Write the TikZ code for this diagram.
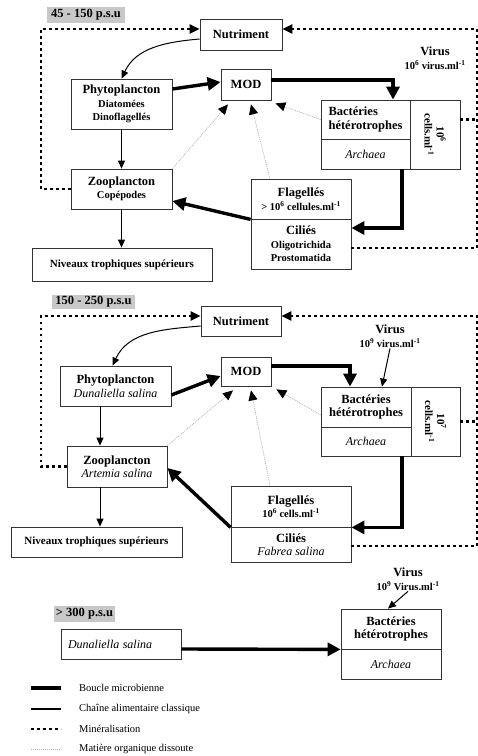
\documentclass[tikz,border=0pt]{standalone}
\usepackage{fontspec}
\setmainfont{Liberation Serif}
\usetikzlibrary{arrows.meta}
\definecolor{labgray}{RGB}{200,200,200}
\newcommand{\Ttl}[1]{{\fontsize{12.5}{13.5}\selectfont #1}}
\newcommand{\Itx}[1]{{\normalfont\itshape\fontsize{12}{13.5}\selectfont #1}}
\begin{document}
\begin{tikzpicture}[x=1pt,y=-1pt,
  box/.style={draw=black!80, line width=0.8pt, inner sep=0pt, align=center, font=\fontsize{10.5}{13.5}\selectfont\bfseries},
  labl/.style={fill=labgray, inner sep=0pt, font=\fontsize{12.5}{13}\selectfont\bfseries},
  txt/.style={inner sep=1pt, align=center, font=\fontsize{10.5}{13.5}\selectfont\bfseries},
  bmic/.style={line width=3.4pt, -{Triangle[length=13pt,width=13pt]}},
  chn/.style={line width=1pt, -{Triangle[length=8pt,width=7pt]}},
  minl/.style={line width=2.6pt, dash pattern=on 2.6pt off 3.4pt, -{Triangle[length=10pt,width=9pt]}},
  modl/.style={draw=gray!60, line width=0.7pt, dash pattern=on 1pt off 1pt, -{Triangle[length=10pt,width=9pt,color=black]}},
  lgt/.style={anchor=west, inner sep=0pt, font=\fontsize{10.5}{12}\selectfont}
]
\useasboundingbox (0,0) rectangle (478,756);
\fill[white] (0,0) rectangle (478,756);

% ================= Panel 1 =================
\node[labl, minimum width=78pt, minimum height=16pt] (lab1) at (86,15) {45 - 150 p.s.u};
\node[box, minimum width=82pt, minimum height=31pt] (nut1) at (241,34.5) {\Ttl{Nutriment}};
\node[box, minimum width=101pt, minimum height=50pt] (phy1) at (121.5,104) {\Ttl{Phytoplancton}\\Diatomées\\Dinoflagellés};
\node[box, minimum width=50pt, minimum height=31pt] (mod1) at (246,84.5) {\Ttl{MOD}};
\node[box, minimum width=89pt, minimum height=39pt, align=left] (bac1) at (365.5,119.5) {\Ttl{Bactéries}\\\Ttl{hétérotrophes}};
\node[box, minimum width=89pt, minimum height=30pt] (arc1) at (365.5,154) {\Itx{Archaea}};
\node[box, minimum width=50pt, minimum height=69pt] (cel1) at (435,134.5) {};
\node[txt, rotate=-90, font=\fontsize{11}{12}\selectfont\bfseries] (celt1) at (cel1.center) {10\textsuperscript{6}\\cells.ml\textsuperscript{-1}};
\node[txt] (vir1) at (435,58) {\Ttl{Virus}\\10\textsuperscript{6} virus.ml\textsuperscript{-1}};
\node[box, minimum width=101pt, minimum height=40pt] (zoo1) at (121.5,189) {\Ttl{Zooplancton}\\Copépodes};
\node[box, minimum width=180pt, minimum height=33pt, font=\fontsize{11}{13}\selectfont\bfseries] (niv1) at (122,264.5) {Niveaux trophiques supérieurs};
\node[box, minimum width=100pt, minimum height=40pt] (fla1) at (301,199) {\Ttl{Flagellés}\\> 10\textsuperscript{6} cellules.ml\textsuperscript{-1}};
\node[box, minimum width=100pt, minimum height=50pt] (cil1) at (301,244) {\Ttl{Ciliés}\\Oligotrichida\\Prostomatida};

\coordinate (tl1) at (41,29);
\coordinate (tr1) at (477,29);
\draw[minl] (zoo1.west) -| (tl1) -- (tl1 -| nut1.west);
\draw[minl] ([yshift=-4pt]cil1.east) -| (tr1) -- (tr1 -| nut1.east);
\draw[minl,-] (bac1.east -| cel1.east) -- (bac1.east -| tr1);
\draw[chn] ([yshift=-4.5pt]nut1.west) to[out=185,in=65] (phy1.north);
\draw[bmic] ([yshift=15pt]phy1.east) -- ([yshift=2.5pt]mod1.west);
\draw[bmic] ([yshift=4.5pt]mod1.east) -| ([xshift=27.5pt]bac1.north);
\draw[chn] (phy1.south) -- (zoo1.north);
\draw[chn] (zoo1.south) -- (zoo1.south |- niv1.north);
\draw[bmic] (fla1.south west) -- ([yshift=-12pt]zoo1.east);
\draw[bmic] ([xshift=36.5pt]arc1.south) |- ([yshift=16pt]cil1.east);
\draw[modl] (zoo1.north east) -- ([xshift=-18pt,yshift=-4pt]mod1.south);
\draw[modl] ([xshift=-31pt]fla1.north) -- ([xshift=5pt,yshift=-4pt]mod1.south);
\draw[modl] (bac1.west) -- ([xshift=4pt,yshift=-3pt]mod1.south east);

% ================= Panel 2 =================
\node[labl, minimum width=83pt, minimum height=14pt] (lab2) at (93.5,301.5) {150 - 250 p.s.u};
\node[box, minimum width=80pt, minimum height=30pt] (nut2) at (241,321) {\Ttl{Nutriment}};
\node[box, minimum width=111pt, minimum height=40pt] (phy2) at (115.5,386) {\Ttl{Phytoplancton}\\\Itx{Dunaliella salina}};
\node[box, minimum width=50pt, minimum height=29pt] (mod2) at (246,371.5) {\Ttl{MOD}};
\node[box, minimum width=90pt, minimum height=40pt] (bac2) at (366,407) {\Ttl{Bactéries}\\\Ttl{hétérotrophes}};
\node[box, minimum width=90pt, minimum height=29pt] (arc2) at (366,441.5) {\Itx{Archaea}};
\node[box, minimum width=49pt, minimum height=69pt] (cel2) at (435.5,421.5) {};
\node[txt, rotate=-90, font=\fontsize{11}{12}\selectfont\bfseries] (celt2) at (cel2.center) {10\textsuperscript{7}\\cells.ml\textsuperscript{-1}};
\node[txt] (vir2) at (390,336) {\Ttl{Virus}\\10\textsuperscript{9} virus.ml\textsuperscript{-1}};
\node[box, minimum width=100pt, minimum height=41pt] (zoo2) at (117,466.5) {\Ttl{Zooplancton}\\\Itx{Artemia salina}};
\node[box, minimum width=171pt, minimum height=30pt, font=\fontsize{11}{13}\selectfont\bfseries] (niv2) at (96.5,542) {Niveaux trophiques supérieurs};
\node[box, minimum width=120pt, minimum height=41pt] (fla2) at (291,506.5) {\Ttl{Flagellés}\\10\textsuperscript{6} cells.ml\textsuperscript{-1}};
\node[box, minimum width=120pt, minimum height=35pt] (cil2) at (291,544.5) {\Ttl{Ciliés}\\\Itx{Fabrea salina}};

\coordinate (tl2) at (41,316);
\coordinate (tr2) at (477,316);
\draw[minl] (zoo2.west) -| (tl2) -- (tl2 -| nut2.west);
\draw[minl] ([yshift=-1.5pt]cil2.east) -| (tr2) -- (tr2 -| nut2.east);
\draw[minl,-] (cel2.east) -- (cel2.east -| tr2);
\draw[chn] ([yshift=-5pt]nut2.west) to[out=185,in=65] ([xshift=-3pt]phy2.north);
\draw[bmic] ([yshift=-9pt]phy2.east) -- ([yshift=-4.5pt]mod2.west);
\draw[bmic] ([yshift=5.5pt]mod2.east) -| ([xshift=-16pt]bac2.north);
\draw[chn] (vir2.south) -- ([xshift=16pt]bac2.north);
\draw[chn] ([xshift=-15.5pt]phy2.south) -- ([xshift=-15.5pt]phy2.south |- zoo2.north);
\draw[chn] ([xshift=-17pt]zoo2.south) -- ([xshift=-17pt]zoo2.south |- niv2.north);
\draw[bmic] (fla2.south west) -- ([yshift=-1.5pt]zoo2.east);
\draw[bmic] ([xshift=36pt]arc2.south) |- (fla2.south east);
\draw[modl] (zoo2.north east) -- ([xshift=-13pt,yshift=-4pt]mod2.south);
\draw[modl] ([xshift=-21pt]fla2.north) -- ([xshift=5pt,yshift=-4pt]mod2.south);
\draw[modl] ([yshift=-8pt]bac2.west) -- ([xshift=5pt,yshift=-3pt]mod2.south east);

% ================= Panel 3 =================
\node[labl, minimum width=61pt, minimum height=16pt] (lab3) at (84.5,614) {> 300 p.s.u};
\node[box, minimum width=120pt, minimum height=30pt, align=left, text width=106pt] (dun3) at (121,644) {\Itx{Dunaliella salina}};
\node[box, minimum width=100pt, minimum height=40pt] (bac3) at (391,629) {\Ttl{Bactéries}\\\Ttl{hétérotrophes}};
\node[box, minimum width=100pt, minimum height=30pt] (arc3) at (391,664) {\Itx{Archaea}};
\node[txt] (vir3) at (408,579) {\Ttl{Virus}\\10\textsuperscript{9} Virus.ml\textsuperscript{-1}};
\draw[bmic] ([yshift=-5pt]dun3.east) -- (bac3.south west);
\draw[chn] (vir3.south) -- ([xshift=-3pt]bac3.north);

% ================= Legend =================
\coordinate (la1) at (31,688); \coordinate (lb1) at (61,688);
\coordinate (la2) at (31,709); \coordinate (lb2) at (61,709);
\coordinate (la3) at (31,729); \coordinate (lb3) at (61,729);
\coordinate (la4) at (31,749); \coordinate (lb4) at (61,749);
\draw[bmic,-] (la1) -- (lb1);
\draw[chn,-, line width=1.4pt] (la2) -- (lb2);
\draw[minl,-] (la3) -- (lb3);
\draw[modl,-] (la4) -- (lb4);
\node[lgt] (lt1) at (79,688) {Boucle microbienne};
\node[lgt] (lt2) at (79,709) {Chaîne alimentaire classique};
\node[lgt] (lt3) at (79,729) {Minéralisation};
\node[lgt] (lt4) at (79,749) {Matière organique dissoute};
\end{tikzpicture}
\end{document}
